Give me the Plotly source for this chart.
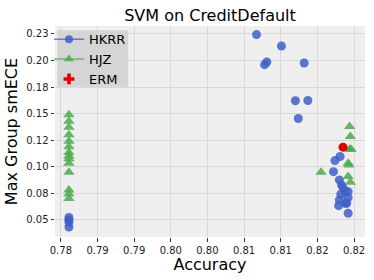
import plotly.graph_objects as go

# HKRR (blue circles)
hkrr_acc = [0.8067, 0.8101, 0.8081, 0.8078, 0.8132, 0.8120, 0.8137, 0.8124,
            0.7811, 0.7811, 0.7811, 0.7811,
            0.8181, 0.8174, 0.8172, 0.8180, 0.8183, 0.8185, 0.8188, 0.8182,
            0.8192, 0.8192, 0.8180, 0.8188, 0.8179, 0.8192, 0.8190]
hkrr_ece = [0.2244, 0.2137, 0.1986, 0.1961, 0.1977, 0.1622, 0.1624, 0.1455,
            0.0524, 0.0500, 0.0481, 0.0434,
            0.1097, 0.1059, 0.0955, 0.0877, 0.0830, 0.0804, 0.0767, 0.0742,
            0.0767, 0.0710, 0.0689, 0.0657, 0.0635, 0.0563, 0.0657]

# HJZ (green triangles)
hjz_acc = [0.7811] * 14 + [0.8194, 0.8195, 0.8194, 0.8196, 0.8192, 0.8193, 0.8155, 0.8192, 0.8195]
hjz_ece = [0.1490, 0.1428, 0.1372, 0.1301, 0.1240, 0.1188, 0.1136, 0.1103, 0.1075,
           0.1033, 0.0948, 0.0783, 0.0745, 0.0703,
           0.1379, 0.1285, 0.1166, 0.1166, 0.1034, 0.1018, 0.0950, 0.0908, 0.0855]

# ERM (red)
erm_acc = [0.8185]
erm_ece = [0.1185]

x_ticks = [0.780, 0.785, 0.790, 0.795, 0.800, 0.805, 0.810, 0.815, 0.820]
x_labels = ["0.78", "0.79", "0.79", "0.80", "0.80", "0.81", "0.81", "0.82", "0.82"]
y_ticks = [0.050, 0.075, 0.100, 0.125, 0.150, 0.175, 0.200, 0.225]
y_labels = ["0.05", "0.08", "0.10", "0.12", "0.15", "0.18", "0.20", "0.23"]

BLUE = "#3e5fc8"
GREEN = "#4caa4c"
RED = "#dd0000"
FONT = "DejaVu Sans"

fig = go.Figure()
fig.add_trace(go.Scatter(x=hkrr_acc, y=hkrr_ece, mode="markers", showlegend=False,
                         marker=dict(symbol="circle", size=9, color=BLUE, opacity=0.85)))
fig.add_trace(go.Scatter(x=hjz_acc, y=hjz_ece, mode="markers", showlegend=False,
                         marker=dict(symbol="triangle-up", size=10, color=GREEN, opacity=0.85)))
fig.add_trace(go.Scatter(x=erm_acc, y=erm_ece, mode="markers", showlegend=False,
                         marker=dict(symbol="circle", size=9, color=RED)))

# legend entries
fig.add_trace(go.Scatter(x=[None], y=[None], mode="lines+markers", name="HKRR",
                         line=dict(color="rgba(62,95,200,0.75)", width=1.5),
                         marker=dict(symbol="circle", size=8, color=BLUE, opacity=0.85)))
fig.add_trace(go.Scatter(x=[None], y=[None], mode="lines+markers", name="HJZ",
                         line=dict(color="rgba(76,170,76,0.75)", width=1.5),
                         marker=dict(symbol="triangle-up", size=9, color=GREEN, opacity=0.85)))
fig.add_trace(go.Scatter(x=[None], y=[None], mode="markers", name="ERM",
                         marker=dict(symbol="cross", size=9, color=RED)))

axis_common = dict(showgrid=True, gridcolor="#d9d9d9", gridwidth=1, zeroline=False,
                   showline=False, ticks="outside", ticklen=3.5, tickwidth=1,
                   tickcolor="#333333", automargin=False,
                   tickfont=dict(family=FONT, size=10, color="#222222"))

fig.update_layout(
    width=374, height=280,
    margin=dict(l=55, r=9, t=26, b=43),
    paper_bgcolor="white", plot_bgcolor="#efefef",
    title=dict(text="SVM on CreditDefault", x=0.5, xanchor="center", y=0.946, yanchor="middle",
               xref="paper", font=dict(family=FONT, size=16, color="black")),
    xaxis=dict(range=[0.7792, 0.8215], tickvals=x_ticks, ticktext=x_labels,
               title=dict(text="Accuracy", font=dict(family=FONT, size=16, color="black"), standoff=4),
               **axis_common),
    yaxis=dict(range=[0.034, 0.2325], tickvals=y_ticks, ticktext=y_labels,
               title=dict(text="Max Group smECE", font=dict(family=FONT, size=16, color="black"), standoff=4),
               **axis_common),
    legend=dict(x=-0.0194, y=1.0085, xanchor="left", yanchor="top", bgcolor="rgba(0,0,0,0)",
                font=dict(family=FONT, size=13, color="black"), borderwidth=0,
                tracegroupgap=0, itemwidth=30),
    shapes=[dict(type="rect", xref="paper", yref="paper", x0=0.0074, x1=0.236, y0=0.712, y1=0.9796,
                 fillcolor="rgba(210,210,210,0.9)", line=dict(width=0), layer="above")],
)

fig.write_html("out.html", config={"displayModeBar": False},
               post_script="document.body.style.margin='0';document.body.style.overflow='hidden';")
